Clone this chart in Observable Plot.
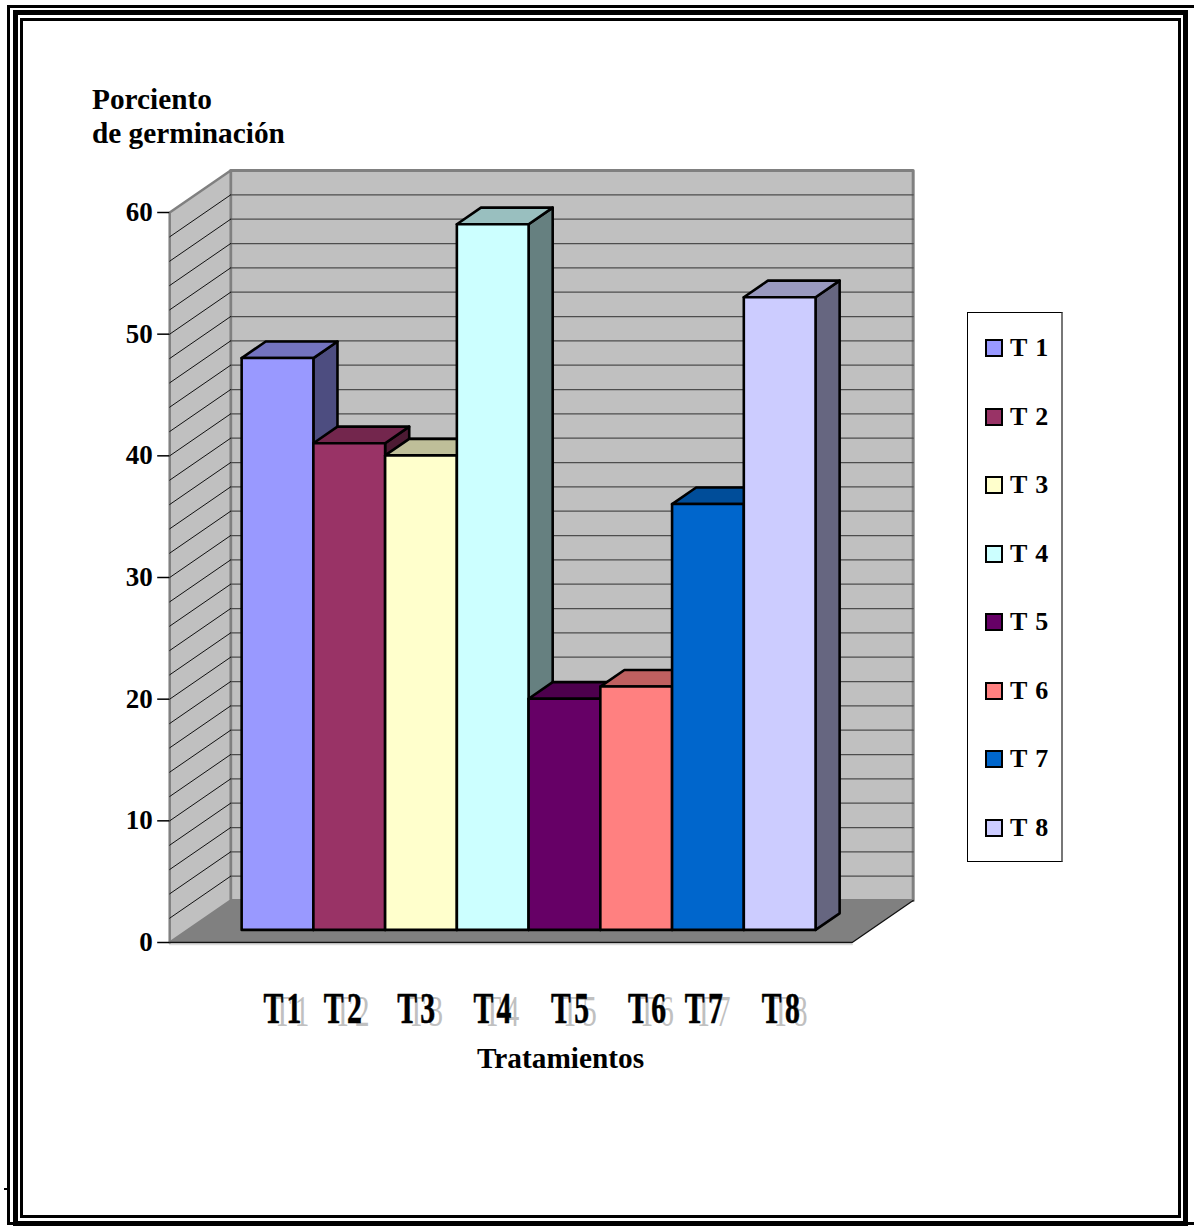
<!DOCTYPE html>
<html lang="es">
<head>
<meta charset="utf-8">
<title>Porciento de germinación</title>
<script src="https://cdn.jsdelivr.net/npm/d3@7"></script>
<script src="https://cdn.jsdelivr.net/npm/@observablehq/plot@0.6"></script>
<style>
  html, body { margin: 0; padding: 0; background: #fff; overflow: hidden; }
  #page { position: relative; width: 1194px; height: 1226px; overflow: hidden;
          font-family: "Liberation Serif", serif; font-weight: bold; color: #000; }
  #page svg { position: absolute; left: 0; top: 0; }
  .band { position: absolute; box-sizing: border-box; border-style: solid; border-color: #000; }
  .speck { position: absolute; left: 4px; top: 1188px; width: 3px; height: 2px; background: #000; }
  .heading { position: absolute; font-size: 29.3px; line-height: 34px; white-space: nowrap; }
  #legend { position: absolute; left: 967px; top: 312px; width: 96px; height: 550px; box-sizing: border-box;
            border: 1px solid #000; border-right: 2px solid #777; background: #fff; }
  .entry { position: absolute; left: 17px; height: 30px; display: flex; align-items: center; font-size: 26px; word-spacing: 2px; }
  .key { width: 18px; height: 18px; box-sizing: border-box; border: 2px solid #000; margin-right: 7px; }
</style>
</head>
<body>
<div id="page"></div>
<script>
// Germination percentage per treatment
const categories = ["T1", "T2", "T3", "T4", "T5", "T6", "T7", "T8"];
const legendNames = ["T 1", "T 2", "T 3", "T 4", "T 5", "T 6", "T 7", "T 8"];
const values = [47, 40, 39, 58, 19, 20, 35, 52];
const barColors = ["#9999FF", "#993366", "#FFFFCC", "#CCFFFF", "#660066", "#FF8080", "#0066CC", "#CCCCFF"];
const axisTicks = [0, 10, 20, 30, 40, 50, 60];
const gridLevels = d3.range(0, 61, 2);

// Category labels sit where they were hand-placed, in slot units along the floor
const labelSlots = [1.59, 2.43, 3.45, 4.51, 5.59, 6.66, 7.45, 8.52];
const labelLevel = -5.4;

// Oblique projection: depth 0 is the front of the floor, depth 1 the back wall
const floorWidth = 9.49;
const shiftX = 0.848;   // slots moved per full depth
const shiftY = 3.45;    // value units moved per full depth
const barStart = 0.746;
const barStep = 0.9975;
const barNear = 0.3;
const barFar = 0.695;
const project = (slot, value, depth) => ({x: slot + depth * shiftX, y: value + depth * shiftY});

const face = (id, fill, corners) =>
  corners.map(([slot, value, depth]) => ({id, fill, ...project(slot, value, depth)}));
const shade = (color, k) => {
  const c = d3.rgb(color);
  return d3.rgb(c.r * k, c.g * k, c.b * k).formatHex();
};

const backWall = face("back", "#C0C0C0", [[0, 0, 1], [floorWidth, 0, 1], [floorWidth, 60, 1], [0, 60, 1]]);
const sideWall = face("side", "#C0C0C0", [[0, 0, 0], [0, 0, 1], [0, 60, 1], [0, 60, 0]]);
const floor = face("floor", "#808080", [[0, 0, 0], [floorWidth, 0, 0], [floorWidth, 0, 1], [0, 0, 1]]);

const backGrid = gridLevels.slice(1, -1).flatMap(v => [
  {id: v, ...project(0, v, 1)}, {id: v, ...project(floorWidth, v, 1)}
]);
const sideGrid = gridLevels.slice(1, -1).flatMap(v => [
  {id: v, ...project(0, v, 0)}, {id: v, ...project(0, v, 1)}
]);

// Painted left to right so that each bar hides what lies behind it
const barFaces = values.flatMap((v, i) => {
  const a = barStart + i * barStep, b = a + barStep, color = barColors[i];
  return [
    ...face(`side${i}`, shade(color, 0.5), [[b, 0, barNear], [b, 0, barFar], [b, v, barFar], [b, v, barNear]]),
    ...face(`top${i}`, shade(color, 0.75), [[a, v, barNear], [b, v, barNear], [b, v, barFar], [a, v, barFar]]),
    ...face(`front${i}`, color, [[a, 0, barNear], [b, 0, barNear], [b, v, barNear], [a, v, barNear]])
  ];
});

const polygons = (data, options) => Plot.line(data, {
  x: "x", y: "y", z: "id", fill: "fill", curve: "linear-closed", ...options
});
const slotLabels = categories.map((name, i) => ({name, slot: labelSlots[i]}));

const chart = Plot.plot({
  width: 1194,
  height: 1226,
  marginLeft: 169.2,
  marginRight: 342.3,
  marginTop: 212,
  marginBottom: 284,
  x: {domain: [0, floorWidth], axis: null},
  y: {domain: [0, 60], axis: null},
  color: {type: "identity"},
  style: {fontFamily: '"Liberation Serif", serif', fontWeight: "bold", fontSize: "27px", color: "#000", background: "transparent"},
  marks: [
    polygons(backWall, {stroke: "#808080", strokeWidth: 3}),
    polygons(sideWall, {stroke: "#808080", strokeWidth: 2.5}),
    Plot.line(backGrid, {x: "x", y: "y", z: "id", stroke: "#4d4d4d", strokeWidth: 1.3}),
    Plot.line(sideGrid, {x: "x", y: "y", z: "id", stroke: "#111", strokeWidth: 1}),
    polygons(floor),
    // Floor edges: the front and right sides are dark, with a faint line below the front
    Plot.line([project(0, 0, 0), project(floorWidth, 0, 0)], {x: "x", y: "y", stroke: "#ddd", strokeWidth: 1.5, dy: 2}),
    Plot.line([project(0, 0, 0), project(floorWidth, 0, 0), project(floorWidth, 0, 1)], {x: "x", y: "y", stroke: "#111", strokeWidth: 1.3}),
    polygons(barFaces, {stroke: "#000", strokeWidth: 2.6}),
    Plot.axisY({ticks: axisTicks, tickSize: 12, tickPadding: 5, tickFormat: d3.format("d"), stroke: "#000", strokeWidth: 1.5, label: null, fontSize: 27}),
    // Faint offset copy of the category labels, then the labels themselves
    Plot.text(slotLabels, {x: "slot", y: () => labelLevel, text: "name", dx: 9, dy: 4, fill: "#c0c0c0", fontWeight: "normal", fontSize: 44, className: "slotlabel"}),
    Plot.text(slotLabels, {x: "slot", y: () => labelLevel, text: "name", fill: "#000", stroke: "#000", strokeWidth: 0.6, fontWeight: "bold", fontSize: 45, className: "slotlabel"})
  ]
});

// Squeeze the category labels into their tall, narrow lettering
d3.select(chart).selectAll(".slotlabel text")
  .style("letter-spacing", "5px")
  .attr("transform", function () {
    return `${this.getAttribute("transform") || ""} scale(0.66,1)`;
  });

const page = d3.select("#page");
page.node().append(chart);

// Triple-line frame around the page
const bands = [
  {left: 7, top: 5, right: -6, bottom: 1, w: 3},
  {left: 13, top: 10, right: 6, bottom: 0, w: 5},
  {left: 20, top: 18, right: 13, bottom: 8, w: 3}
];
for (const b of bands) {
  page.append("div").attr("class", "band")
    .style("left", `${b.left}px`).style("top", `${b.top}px`)
    .style("right", `${b.right}px`).style("bottom", `${b.bottom}px`)
    .style("border-width", `${b.w}px`);
}
page.append("div").attr("class", "speck");

page.append("div").attr("class", "heading").style("left", "92px").style("top", "82px")
  .html("Porciento<br>de germinación");
page.append("div").attr("class", "heading").style("left", "477px").style("top", "1041px")
  .text("Tratamientos");

// Legend box on the right
const legend = page.append("div").attr("id", "legend");
legendNames.forEach((name, i) => {
  const entry = legend.append("div").attr("class", "entry").style("top", `${20 + i * 68.5}px`);
  entry.append("div").attr("class", "key").style("background", barColors[i]);
  entry.append("span").text(name);
});
</script>
</body>
</html>
